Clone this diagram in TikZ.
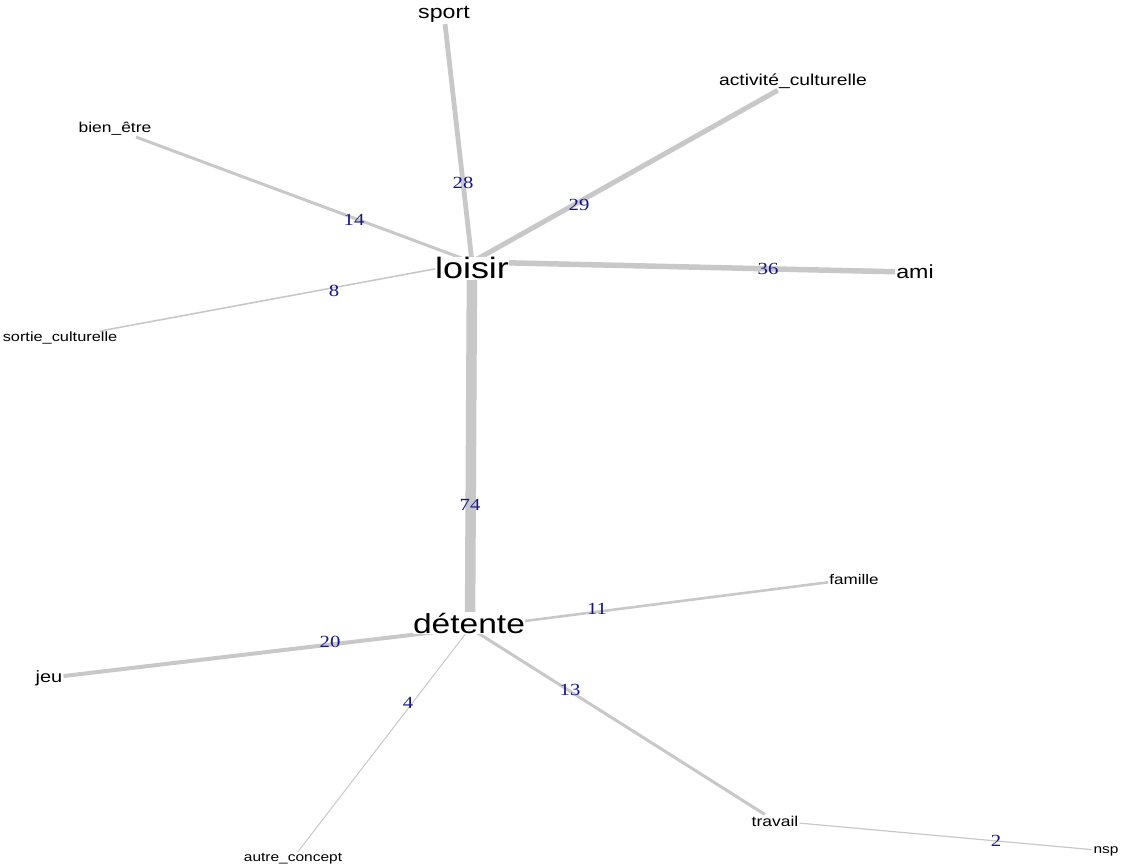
\documentclass[tikz,border=0pt]{standalone}
\usepackage{fontspec}
\newfontfamily\labfont[FakeStretch=1.22]{Liberation Sans}
\newfontfamily\numfont[FakeStretch=1.22]{Liberation Serif}
\newcommand\fsz[1]{\fontsize{#1}{#1}\selectfont}
\definecolor{edgegray}{RGB}{200,200,200}
\definecolor{numblue}{RGB}{20,20,140}
\begin{document}
\begin{tikzpicture}[x=1pt,y=-1pt,
  vlab/.style={text=black, inner sep=1pt, anchor=base},
  hub/.style={vlab, fill=white, inner sep=0.5pt},
  elab/.style={font=\numfont\fsz{17}, text=numblue, inner sep=0pt},
  lnk/.style={draw=edgegray, line cap=butt},
]
\useasboundingbox (0,0) rectangle (1122,866);
% hub vertices
\coordinate (L) at (472,262);
\coordinate (D) at (470,628);
% leaf labels
\node[vlab, font=\labfont\fsz{19}] (sport) at (444,19) {sport};
\node[vlab, font=\labfont\fsz{15.8}] (actc) at (793,86) {activité\_culturelle};
\node[vlab, font=\labfont\fsz{14.3}] (bien) at (115,133) {bien\_être};
\node[vlab, font=\labfont\fsz{19}] (ami) at (915,279) {ami};
\node[vlab, font=\labfont\fsz{13.4}] (sortie) at (60,342) {sortie\_culturelle};
\node[vlab, font=\labfont\fsz{14}] (famille) at (854,584) {famille};
\node[vlab, font=\labfont\fsz{16.4}] (jeu) at (49,682) {jeu};
\node[vlab, font=\labfont\fsz{14.3}] (travail) at (775,826) {travail};
\node[vlab, font=\labfont\fsz{12.7}] (autre) at (293,861) {autre\_concept};
\node[vlab, font=\labfont\fsz{12.7}] (nsp) at (1106,853) {nsp};
% edges
\draw[lnk, line width=4.8pt] (sport) -- (L);
\draw[lnk, line width=5pt] (actc) -- (L);
\draw[lnk, line width=3pt] (bien) -- (L);
\draw[lnk, line width=1.6pt] (sortie) -- (L);
\draw[lnk, line width=5.5pt] (L) -- (ami);
\draw[lnk, line width=10.5pt] (L) -- (D);
\draw[lnk, line width=4pt] (jeu) -- (D);
\draw[lnk, line width=2.6pt] (D) -- (famille);
\draw[lnk, line width=3pt] (D) -- (travail);
\draw[lnk, line width=1pt] (D) -- (autre);
\draw[lnk, line width=1.2pt] (travail) -- (nsp);
% hub labels
\node[hub, font=\labfont\fsz{29.5}] (loisir) at (472,279) {loisir};
\node[hub, font=\labfont\fsz{27.5}] (detente) at (469,633) {détente};
% edge weights
\node[elab] (w28) at (463,183) {28};
\node[elab] (w29) at (579,205) {29};
\node[elab] (w14) at (354,220) {14};
\node[elab] (w8) at (334,291) {8};
\node[elab] (w36) at (768,269) {36};
\node[elab] (w74) at (470,505) {74};
\node[elab] (w11) at (597,609) {11};
\node[elab] (w20) at (330,642) {20};
\node[elab] (w13) at (570,690) {13};
\node[elab] (w4) at (408,703) {4};
\node[elab] (w2) at (996,841) {2};
\end{tikzpicture}
\end{document}
